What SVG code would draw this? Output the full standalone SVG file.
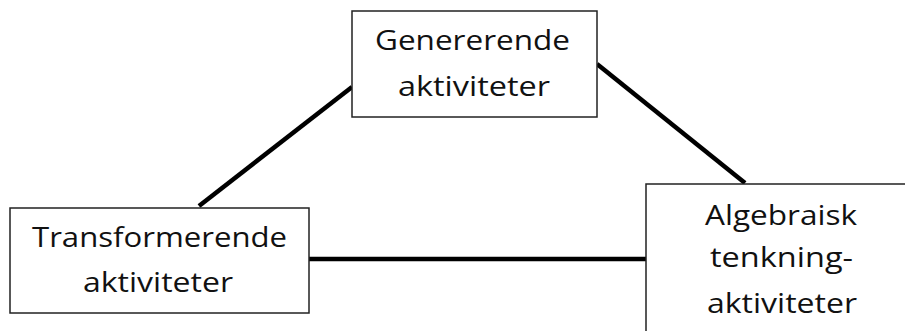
<svg xmlns="http://www.w3.org/2000/svg" width="905" height="331" viewBox="0 0 905 331">
<style>
.box{fill:#fff;stroke:#222;stroke-width:1.5}
.lbl{font-family:"Open Sans","Noto Sans",sans-serif;font-size:28px;fill:#111;text-anchor:middle}
.con{stroke:#000;stroke-width:4.5;fill:none}
</style>
<rect width="905" height="331" fill="#fff"/>
<g id="connectors">
<line class="con" x1="199" y1="206" x2="352" y2="87"/>
<line class="con" x1="597" y1="64" x2="745" y2="183"/>
<line class="con" x1="309" y1="259" x2="646" y2="259"/>
</g>
<g id="node-genererende">
<rect class="box" x="352" y="11" width="245" height="106"/>
<text class="lbl" x="472.5" y="50" textLength="195" lengthAdjust="spacingAndGlyphs">Genererende</text>
<text class="lbl" x="474" y="96" textLength="152" lengthAdjust="spacingAndGlyphs">aktiviteter</text>
</g>
<g id="node-transformerende">
<rect class="box" x="10" y="208" width="299" height="105"/>
<text class="lbl" x="159.5" y="247" textLength="255" lengthAdjust="spacingAndGlyphs">Transformerende</text>
<text class="lbl" x="158" y="292" textLength="150" lengthAdjust="spacingAndGlyphs">aktiviteter</text>
</g>
<g id="node-algebraisk">
<rect class="box" x="646" y="184" width="275" height="160"/>
<text class="lbl" x="781" y="225" textLength="152" lengthAdjust="spacingAndGlyphs">Algebraisk</text>
<text class="lbl" x="781.5" y="267" textLength="143" lengthAdjust="spacingAndGlyphs">tenkning-</text>
<text class="lbl" x="782" y="313" textLength="150" lengthAdjust="spacingAndGlyphs">aktiviteter</text>
</g>
</svg>
